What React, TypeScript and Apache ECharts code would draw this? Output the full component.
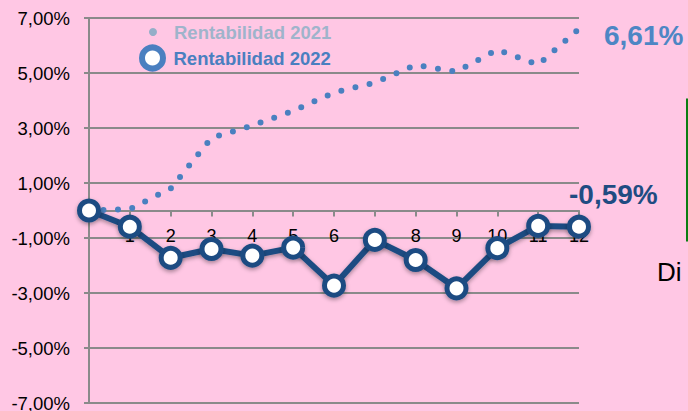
import React, { useEffect, useRef } from "react";
import * as echarts from "echarts";

const months = [0, 1, 2, 3, 4, 5, 6, 7, 8, 9, 10, 11, 12];
const rent2021 = [0, 0.05, 0.8, 2.64, 3.09, 3.62, 4.29, 4.65, 5.29, 5.05, 5.85, 5.3, 6.61];
const rent2022 = [0, -0.59, -1.72, -1.4, -1.64, -1.35, -2.73, -1.07, -1.8, -2.83, -1.37, -0.56, -0.59];
const seriesNames = ["Rentabilidad 2021", "Rentabilidad 2022"];
const sideText = "Di";

const FONT = "'Liberation Sans', Arial, Helvetica, sans-serif";
const pct = (v: number) => v.toFixed(2).replace(".", ",") + "%";

const GRID_TOP = 18;
const GRID_BOTTOM = 8;
const CHART_H = 411;
const Y_MIN = -7;
const Y_MAX = 7;
// x axis sits on the zero line: offset from the bottom of the grid
const plotH = CHART_H - GRID_TOP - GRID_BOTTOM;
const zeroOffset = -(plotH * (0 - Y_MIN)) / (Y_MAX - Y_MIN);

export default function App() {
  const ref = useRef<HTMLDivElement>(null);
  useEffect(() => {
    if (!ref.current) return;
    const chart = echarts.init(ref.current, undefined, { renderer: "svg" });
    const axisGray = "#8a8a8a";
    chart.setOption({
      animation: false,
      backgroundColor: "#ffc7e4",
      textStyle: { fontFamily: FONT },
      grid: { left: 89, right: 109, top: GRID_TOP, bottom: GRID_BOTTOM, outerBoundsMode: "none", containLabel: false },
      legend: [
        {
          data: [
            {
              name: seriesNames[0],
              icon: "circle",
              itemStyle: { color: "#94aec8", borderWidth: 0 },
              textStyle: { color: "#9fb4cb" },
            },
          ],
          orient: "vertical",
          left: 149,
          top: 22,
          padding: 0,
          itemWidth: 32,
          itemHeight: 8,
          textStyle: { fontSize: 18.5, fontWeight: "bold", fontFamily: FONT, lineHeight: 20 },
        },
        {
          data: [
            {
              name: seriesNames[1],
              icon: "circle",
              itemStyle: { color: "#ffffff", borderColor: "#4a7fc0", borderWidth: 6 },
              textStyle: { color: "#4a7fc0" },
            },
          ],
          orient: "vertical",
          left: 139,
          top: 44.5,
          padding: 0,
          itemWidth: 32,
          itemHeight: 21,
          textStyle: { fontSize: 18.5, fontWeight: "bold", fontFamily: FONT, lineHeight: 20 },
        },
      ],
      xAxis: {
        type: "value",
        min: 0,
        max: 12,
        interval: 1,
        position: "bottom",
        offset: zeroOffset,
        axisLine: { onZero: false, lineStyle: { color: axisGray, width: 2 } },
        axisTick: { show: true, length: 6, lineStyle: { color: axisGray, width: 2 } },
        splitLine: { show: false },
        axisLabel: {
          color: "#000",
          fontSize: 18,
          fontFamily: FONT,
          margin: 16,
          formatter: (v: number) => (v === 0 ? "" : String(v)),
        },
      },
      yAxis: {
        type: "value",
        min: Y_MIN,
        max: Y_MAX,
        interval: 2,
        axisLine: { show: true, lineStyle: { color: axisGray, width: 2 } },
        axisTick: { show: true, length: 5, lineStyle: { color: axisGray, width: 2 } },
        splitLine: { show: true, lineStyle: { color: axisGray, width: 2 } },
        axisLabel: {
          color: "#000",
          fontSize: 18.5,
          fontFamily: FONT,
          margin: 19,
          formatter: (v: number) => pct(v),
        },
      },
      series: [
        {
          name: seriesNames[0],
          type: "line",
          data: rent2021.map((v, i) => [months[i], v]),
          symbol: "none",
          z: 2,
          lineStyle: { color: "#4a80c0", width: 6, type: [0, 14.5], cap: "round" },
          itemStyle: { color: "#94aec8" },
          endLabel: {
            show: true,
            formatter: (p: any) => pct(p.value[1]),
            color: "#4d86c4",
            fontSize: 28,
            fontWeight: "bold",
            fontFamily: FONT,
            offset: [17, 7],
          },
        },
        {
          name: seriesNames[1],
          type: "line",
          data: rent2022.map((v, i) => [months[i], v]),
          symbol: "circle",
          symbolSize: 19,
          showAllSymbol: true,
          z: 3,
          lineStyle: {
            color: "#1f4c82",
            width: 6,
            shadowBlur: 4,
            shadowColor: "rgba(0,0,0,0.35)",
            shadowOffsetY: 2,
          },
          itemStyle: {
            color: "#ffffff",
            borderColor: "#1f4c82",
            borderWidth: 5,
            shadowBlur: 4,
            shadowColor: "rgba(0,0,0,0.35)",
            shadowOffsetY: 2,
          },
          endLabel: {
            show: true,
            formatter: (p: any) => pct(p.value[1]),
            color: "#1f4c82",
            fontSize: 28,
            fontWeight: "bold",
            fontFamily: FONT,
            offset: [-18, -32],
          },
        },
      ],
      graphic: [
        {
          type: "rect",
          shape: { x: 687.5, y: 100, width: 20, height: 140 },
          style: { fill: "none", stroke: "#0b7d12", lineWidth: 3 },
        },
        {
          type: "text",
          x: 657,
          y: 272,
          style: {
            text: sideText,
            fill: "#000",
            font: `26px ${FONT}`,
            verticalAlign: "middle",
          },
        },
      ],
    });
    return () => chart.dispose();
  }, []);
  return (
    <div
      ref={ref}
      style={{ position: "fixed", left: 0, top: 0, width: 688, height: 411, background: "#ffc7e4" }}
    />
  );
}
